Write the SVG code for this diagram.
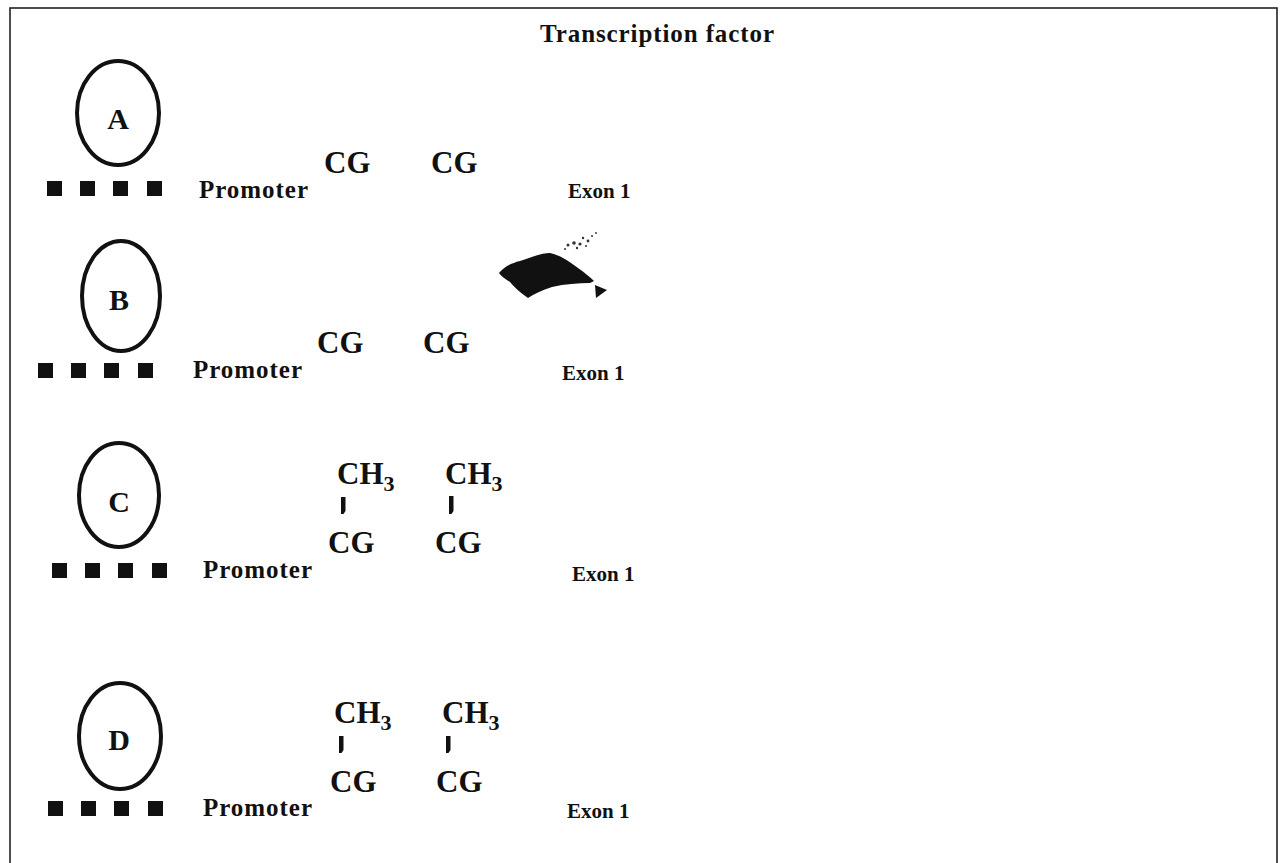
<svg xmlns="http://www.w3.org/2000/svg" width="1284" height="863" viewBox="0 0 1284 863">
  <style>
    text { font-family: "Liberation Serif", "Times New Roman", serif; font-weight: bold; fill: #111; }
    .letter { font-size: 30px; text-anchor: middle; }
    .prom { font-size: 25px; }
    .cg { font-size: 31px; }
    .sub { font-size: 22px; }
    .exon { font-size: 21px; }
    .title { font-size: 25px; }
    .tf { fill: none; stroke: #111; stroke-width: 4; }
    .sq { fill: #111; }
    .tick { fill: #111; }
  </style>

  <!-- frame -->
  <rect x="10" y="8" width="1267" height="875" fill="none" stroke="#222" stroke-width="1.6"/>

  <text class="title" x="540" y="42" textLength="234">Transcription factor</text>

  <!-- A: unmethylated promoter, factor bound -->
  <g id="row-a">
    <ellipse class="tf" cx="118" cy="113" rx="41" ry="52"/>
    <text class="letter" x="118" y="129">A</text>
    <rect class="sq" x="47" y="181" width="15" height="15"/>
    <rect class="sq" x="80" y="181" width="15" height="15"/>
    <rect class="sq" x="113" y="181" width="15" height="15"/>
    <rect class="sq" x="147" y="181" width="15" height="15"/>
    <text class="prom" x="199" y="198" textLength="109">Promoter</text>
    <text class="cg" x="324" y="173">CG</text>
    <text class="cg" x="431" y="173">CG</text>
    <text class="exon" x="568" y="198">Exon 1</text>
  </g>

  <!-- B: transcription proceeds -->
  <g id="row-b">
    <ellipse class="tf" cx="121" cy="296" rx="39" ry="55"/>
    <text class="letter" x="119" y="310">B</text>
    <rect class="sq" x="38" y="363" width="15" height="15"/>
    <rect class="sq" x="71" y="363" width="15" height="15"/>
    <rect class="sq" x="104" y="363" width="15" height="15"/>
    <rect class="sq" x="138" y="363" width="15" height="15"/>
    <text class="prom" x="193" y="378" textLength="109">Promoter</text>
    <text class="cg" x="317" y="353">CG</text>
    <text class="cg" x="423" y="353">CG</text>
    <text class="exon" x="562" y="380">Exon 1</text>
  </g>

  <!-- curved arrow -->
  <g id="arrow">
    <path fill="#111" d="M499,273 C505,266 512,263 520,261 C532,257 542,253 550,253 C560,255 570,262 578,268 C585,273 590,277 594,281 L590,283 C578,283 565,284 552,287 C542,290 534,294 528,298 C522,294 514,287 510,282 C505,279 501,276 499,273 Z"/>
    <path fill="#111" d="M595,285 L607,290 L596,298 Z"/>
    <g fill="#333">
      <circle cx="568" cy="245" r="1.5"/>
      <circle cx="574" cy="243" r="1.8"/>
      <circle cx="580" cy="244" r="1.6"/>
      <circle cx="583" cy="238" r="1.2"/>
      <circle cx="588" cy="241" r="1.4"/>
      <circle cx="592" cy="236" r="1"/>
      <circle cx="565" cy="249" r="1"/>
      <circle cx="577" cy="248" r="1.2"/>
      <circle cx="596" cy="233" r="0.9"/>
      <circle cx="586" cy="246" r="1"/>
    </g>
  </g>

  <!-- C: methylated CpGs -->
  <g id="row-c">
    <ellipse class="tf" cx="119" cy="495" rx="40" ry="52"/>
    <text class="letter" x="119" y="512">C</text>
    <rect class="sq" x="52" y="563" width="15" height="15"/>
    <rect class="sq" x="85" y="563" width="15" height="15"/>
    <rect class="sq" x="118" y="563" width="15" height="15"/>
    <rect class="sq" x="152" y="563" width="15" height="15"/>
    <text class="prom" x="203" y="578" textLength="109">Promoter</text>
    <text class="cg" x="337" y="484">CH<tspan class="sub" dy="7">3</tspan></text>
    <text class="cg" x="445" y="484">CH<tspan class="sub" dy="7">3</tspan></text>
    <path class="tick" d="M341,497 h4.5 v14 l-2,3 h-2.5 z"/>
    <path class="tick" d="M449,496 h4.5 v15 l-2,3 h-2.5 z"/>
    <text class="cg" x="328" y="553">CG</text>
    <text class="cg" x="435" y="553">CG</text>
    <text class="exon" x="572" y="581">Exon 1</text>
  </g>

  <!-- D: methylated CpGs, factor blocked -->
  <g id="row-d">
    <ellipse class="tf" cx="120" cy="736" rx="41" ry="53"/>
    <text class="letter" x="119" y="750">D</text>
    <rect class="sq" x="48" y="801" width="15" height="15"/>
    <rect class="sq" x="81" y="801" width="15" height="15"/>
    <rect class="sq" x="114" y="801" width="15" height="15"/>
    <rect class="sq" x="148" y="801" width="15" height="15"/>
    <text class="prom" x="203" y="816" textLength="109">Promoter</text>
    <text class="cg" x="334" y="723">CH<tspan class="sub" dy="7">3</tspan></text>
    <text class="cg" x="442" y="723">CH<tspan class="sub" dy="7">3</tspan></text>
    <path class="tick" d="M339,736 h4.5 v14 l-2,3 h-2.5 z"/>
    <path class="tick" d="M446,736 h4.5 v14 l-2,3 h-2.5 z"/>
    <text class="cg" x="330" y="792">CG</text>
    <text class="cg" x="436" y="792">CG</text>
    <text class="exon" x="567" y="818">Exon 1</text>
  </g>
</svg>
